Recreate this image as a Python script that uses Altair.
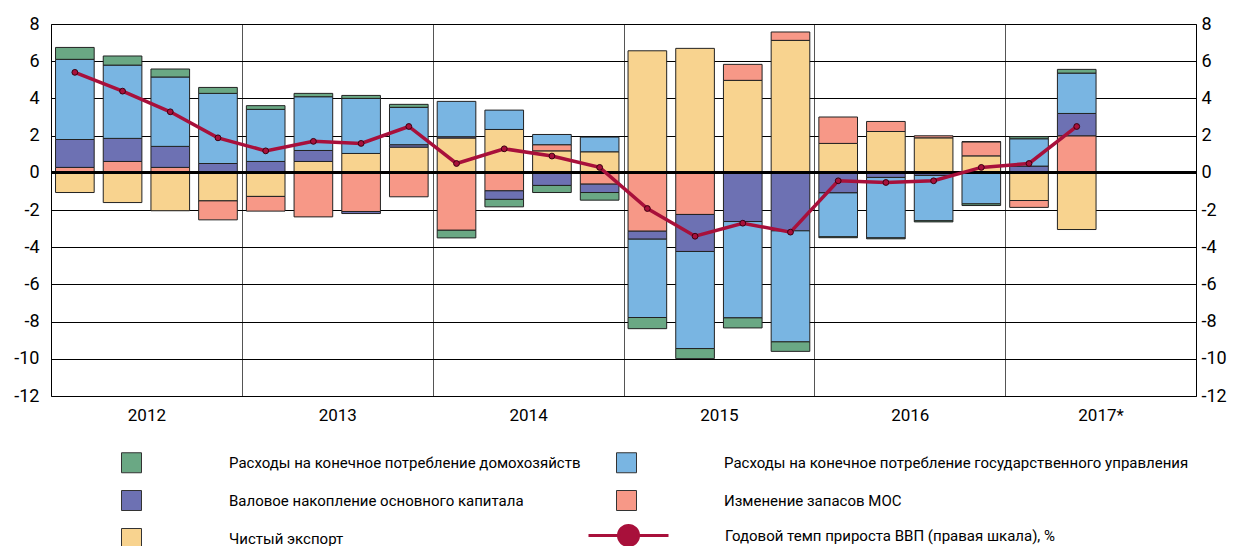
import altair as alt
import pandas as pd

quarters = ["2012Q1","2012Q2","2012Q3","2012Q4","2013Q1","2013Q2","2013Q3","2013Q4",
            "2014Q1","2014Q2","2014Q3","2014Q4","2015Q1","2015Q2","2015Q3","2015Q4",
            "2016Q1","2016Q2","2016Q3","2016Q4","2017Q1","2017Q2"]
years = ["2012", "2013", "2014", "2015", "2016", "2017*"]

s_green = "Расходы на конечное потребление домохозяйств"
s_blue = "Расходы на конечное потребление государственного управления"
s_purple = "Валовое накопление основного капитала"
s_pink = "Изменение запасов МОС"
s_yellow = "Чистый экспорт"
s_line = "Годовой темп прироста ВВП (правая шкала), %"

net_export = [-1.06, -1.60, -2.04, -1.51, -1.27, 0.61, 1.04, 1.38, 1.87, 2.33, 1.18, 1.13,
              6.56, 6.69, 4.97, 7.12, 1.58, 2.22, 1.88, 0.91, -1.49, -3.05]
inventories = [0.29, 0.61, 0.29, -1.02, -0.79, -2.37, -2.08, -1.29, -3.09, -0.97, 0.33, -0.61,
               -3.14, -2.24, 0.86, 0.45, 1.42, 0.54, 0.11, 0.76, -0.37, 1.99]
investment = [1.50, 1.24, 1.13, 0.50, 0.61, 0.59, -0.11, 0.13, 0.07, -0.46, -0.68, -0.45,
              -0.43, -1.99, -2.62, -3.12, -1.08, -0.25, -0.14, 0.00, 0.36, 1.20]
government = [4.31, 3.94, 3.73, 3.77, 2.80, 2.89, 2.96, 2.01, 1.90, 1.04, 0.55, 0.79,
              -4.21, -5.22, -5.18, -5.97, -2.36, -3.25, -2.44, -1.67, 1.47, 2.17]
households = [0.64, 0.49, 0.43, 0.32, 0.20, 0.18, 0.16, 0.16, -0.41, -0.40, -0.38, -0.41,
              -0.60, -0.54, -0.54, -0.51, -0.05, -0.05, -0.06, -0.09, 0.11, 0.20]
gdp_growth = [5.40, 4.39, 3.28, 1.88, 1.18, 1.69, 1.58, 2.49, 0.50, 1.29, 0.90, 0.29,
              -1.92, -3.41, -2.71, -3.19, -0.43, -0.52, -0.43, 0.29, 0.50, 2.49]

stack_order = [s_yellow, s_pink, s_purple, s_blue, s_green]
series_vals = {s_yellow: net_export, s_pink: inventories, s_purple: investment,
               s_blue: government, s_green: households}

rows = []
for k, name in enumerate(stack_order):
    for i, q in enumerate(quarters):
        rows.append({"q": q, "idx": i, "series": name, "order": k, "value": series_vals[name][i]})
bars_df = pd.DataFrame(rows)
line_df = pd.DataFrame({"q": quarters, "idx": list(range(len(quarters))),
                        "gdp": gdp_growth, "s": s_line})

FONT = "Roboto, Liberation Sans, sans-serif"
# legend laid out column-wise: col 1 = green, purple, yellow; col 2 = blue, pink
legend_domain = [s_green, s_purple, s_yellow, s_blue, s_pink]
legend_range = ["#6aa884", "#6d71b3", "#f8d38f", "#79b5e2", "#f79887"]
CRIMSON = "#a8103b"

x_scale = alt.Scale(domain=[0, 24], nice=False, zero=False)
y_scale = alt.Scale(domain=[-12, 8], nice=False, zero=False)
ticks = list(range(-12, 9, 2))

bars = alt.Chart(bars_df).transform_stack(
    stack="value", groupby=["idx"], as_=["v0", "v1"],
    sort=[alt.SortField("order", order="ascending")], offset="zero"
).transform_calculate(
    x0="datum.idx + 0.095", x1="datum.idx + 0.905"
).mark_bar(stroke="#222", strokeWidth=1).encode(
    x=alt.X("x0:Q", scale=x_scale,
            axis=alt.Axis(values=[2, 6, 10, 14, 18, 22], grid=False, ticks=False, domain=False,
                          labelExpr="datum.value == 22 ? '2017*' : toString(2012 + (datum.value - 2) / 4)",
                          labelFont=FONT, labelFontSize=17, labelColor="#000", labelPadding=11,
                          title=None, orient="bottom")),
    x2="x1:Q",
    y=alt.Y("v0:Q", scale=y_scale,
            axis=alt.Axis(values=ticks, grid=True, gridColor="#000", gridWidth=1,
                          ticks=False, domain=False, labelExpr="toString(datum.value)",
                          labelFont=FONT, labelFontSize=18, labelColor="#000", labelPadding=12,
                          title=None, orient="left")),
    y2="v1:Q",
    color=alt.Color("series:N", scale=alt.Scale(domain=legend_domain, range=legend_range),
                    legend=alt.Legend(orient="none", legendX=70, legendY=428, columns=2,
                                      direction="vertical",
                                      title=None, symbolType="square", symbolSize=400,
                                      symbolStrokeColor="#333", symbolStrokeWidth=1,
                                      symbolOpacity=1, labelOffset=87, labelFont=FONT,
                                      labelFontSize=15, labelColor="#000", labelLimit=600,
                                      columnPadding=33, rowPadding=13, padding=0)),
)

zero = alt.Chart(line_df).mark_rule(color="#000", strokeWidth=2.5).encode(
    y=alt.datum(0, scale=y_scale, axis=None)
)

symbol_path = ("M-1,0L-0.25,0M0.25,0L1,0M-0.25,0A0.25,0.25,0,1,0,0.25,0"
               "A0.25,0.25,0,1,0,-0.25,0Z")

line = alt.Chart(line_df).transform_calculate(xm="datum.idx + 0.5").mark_line(
    strokeWidth=3.5
).encode(
    x=alt.X("xm:Q", scale=x_scale,
            axis=alt.Axis(values=[4, 8, 12, 16, 20], grid=True, gridColor="#555", gridWidth=1,
                          labels=False, ticks=False, domain=False, title=None, orient="top")),
    y=alt.Y("gdp:Q", scale=y_scale,
            axis=alt.Axis(values=ticks, grid=False, ticks=False, domain=False,
                          labelExpr="toString(datum.value)", labelFont=FONT, labelFontSize=18,
                          labelColor="#000", labelPadding=5, title=None, orient="right")),
    stroke=alt.Stroke("s:N", scale=alt.Scale(domain=[s_line], range=[CRIMSON]),
                      legend=alt.Legend(orient="none", legendX=536, legendY=470, title=None,
                                        symbolType=symbol_path, symbolSize=6400,
                                        symbolFillColor=CRIMSON, symbolStrokeColor=CRIMSON,
                                        symbolStrokeWidth=3, labelOffset=55, labelFont=FONT,
                                        labelFontSize=15, labelColor="#000", labelLimit=600,
                                        padding=0)),
)

points = alt.Chart(line_df).transform_calculate(xm="datum.idx + 0.5").mark_point(
    filled=True, size=34, fill=CRIMSON, stroke="#3a0010", strokeWidth=1, opacity=1
).encode(
    x=alt.X("xm:Q", scale=x_scale, axis=None),
    y=alt.Y("gdp:Q", scale=y_scale, axis=None),
)

chart = alt.layer(bars, zero, line, points).resolve_axis(
    x="independent", y="independent"
).properties(
    width=1145, height=372,
    autosize=alt.AutoSizeParams(type="none"),
    padding={"left": 43, "top": 16, "right": 33, "bottom": 150},
).configure_view(stroke="#000", strokeWidth=1)

chart.save("out.html", embed_options={"renderer": "svg", "actions": False})
